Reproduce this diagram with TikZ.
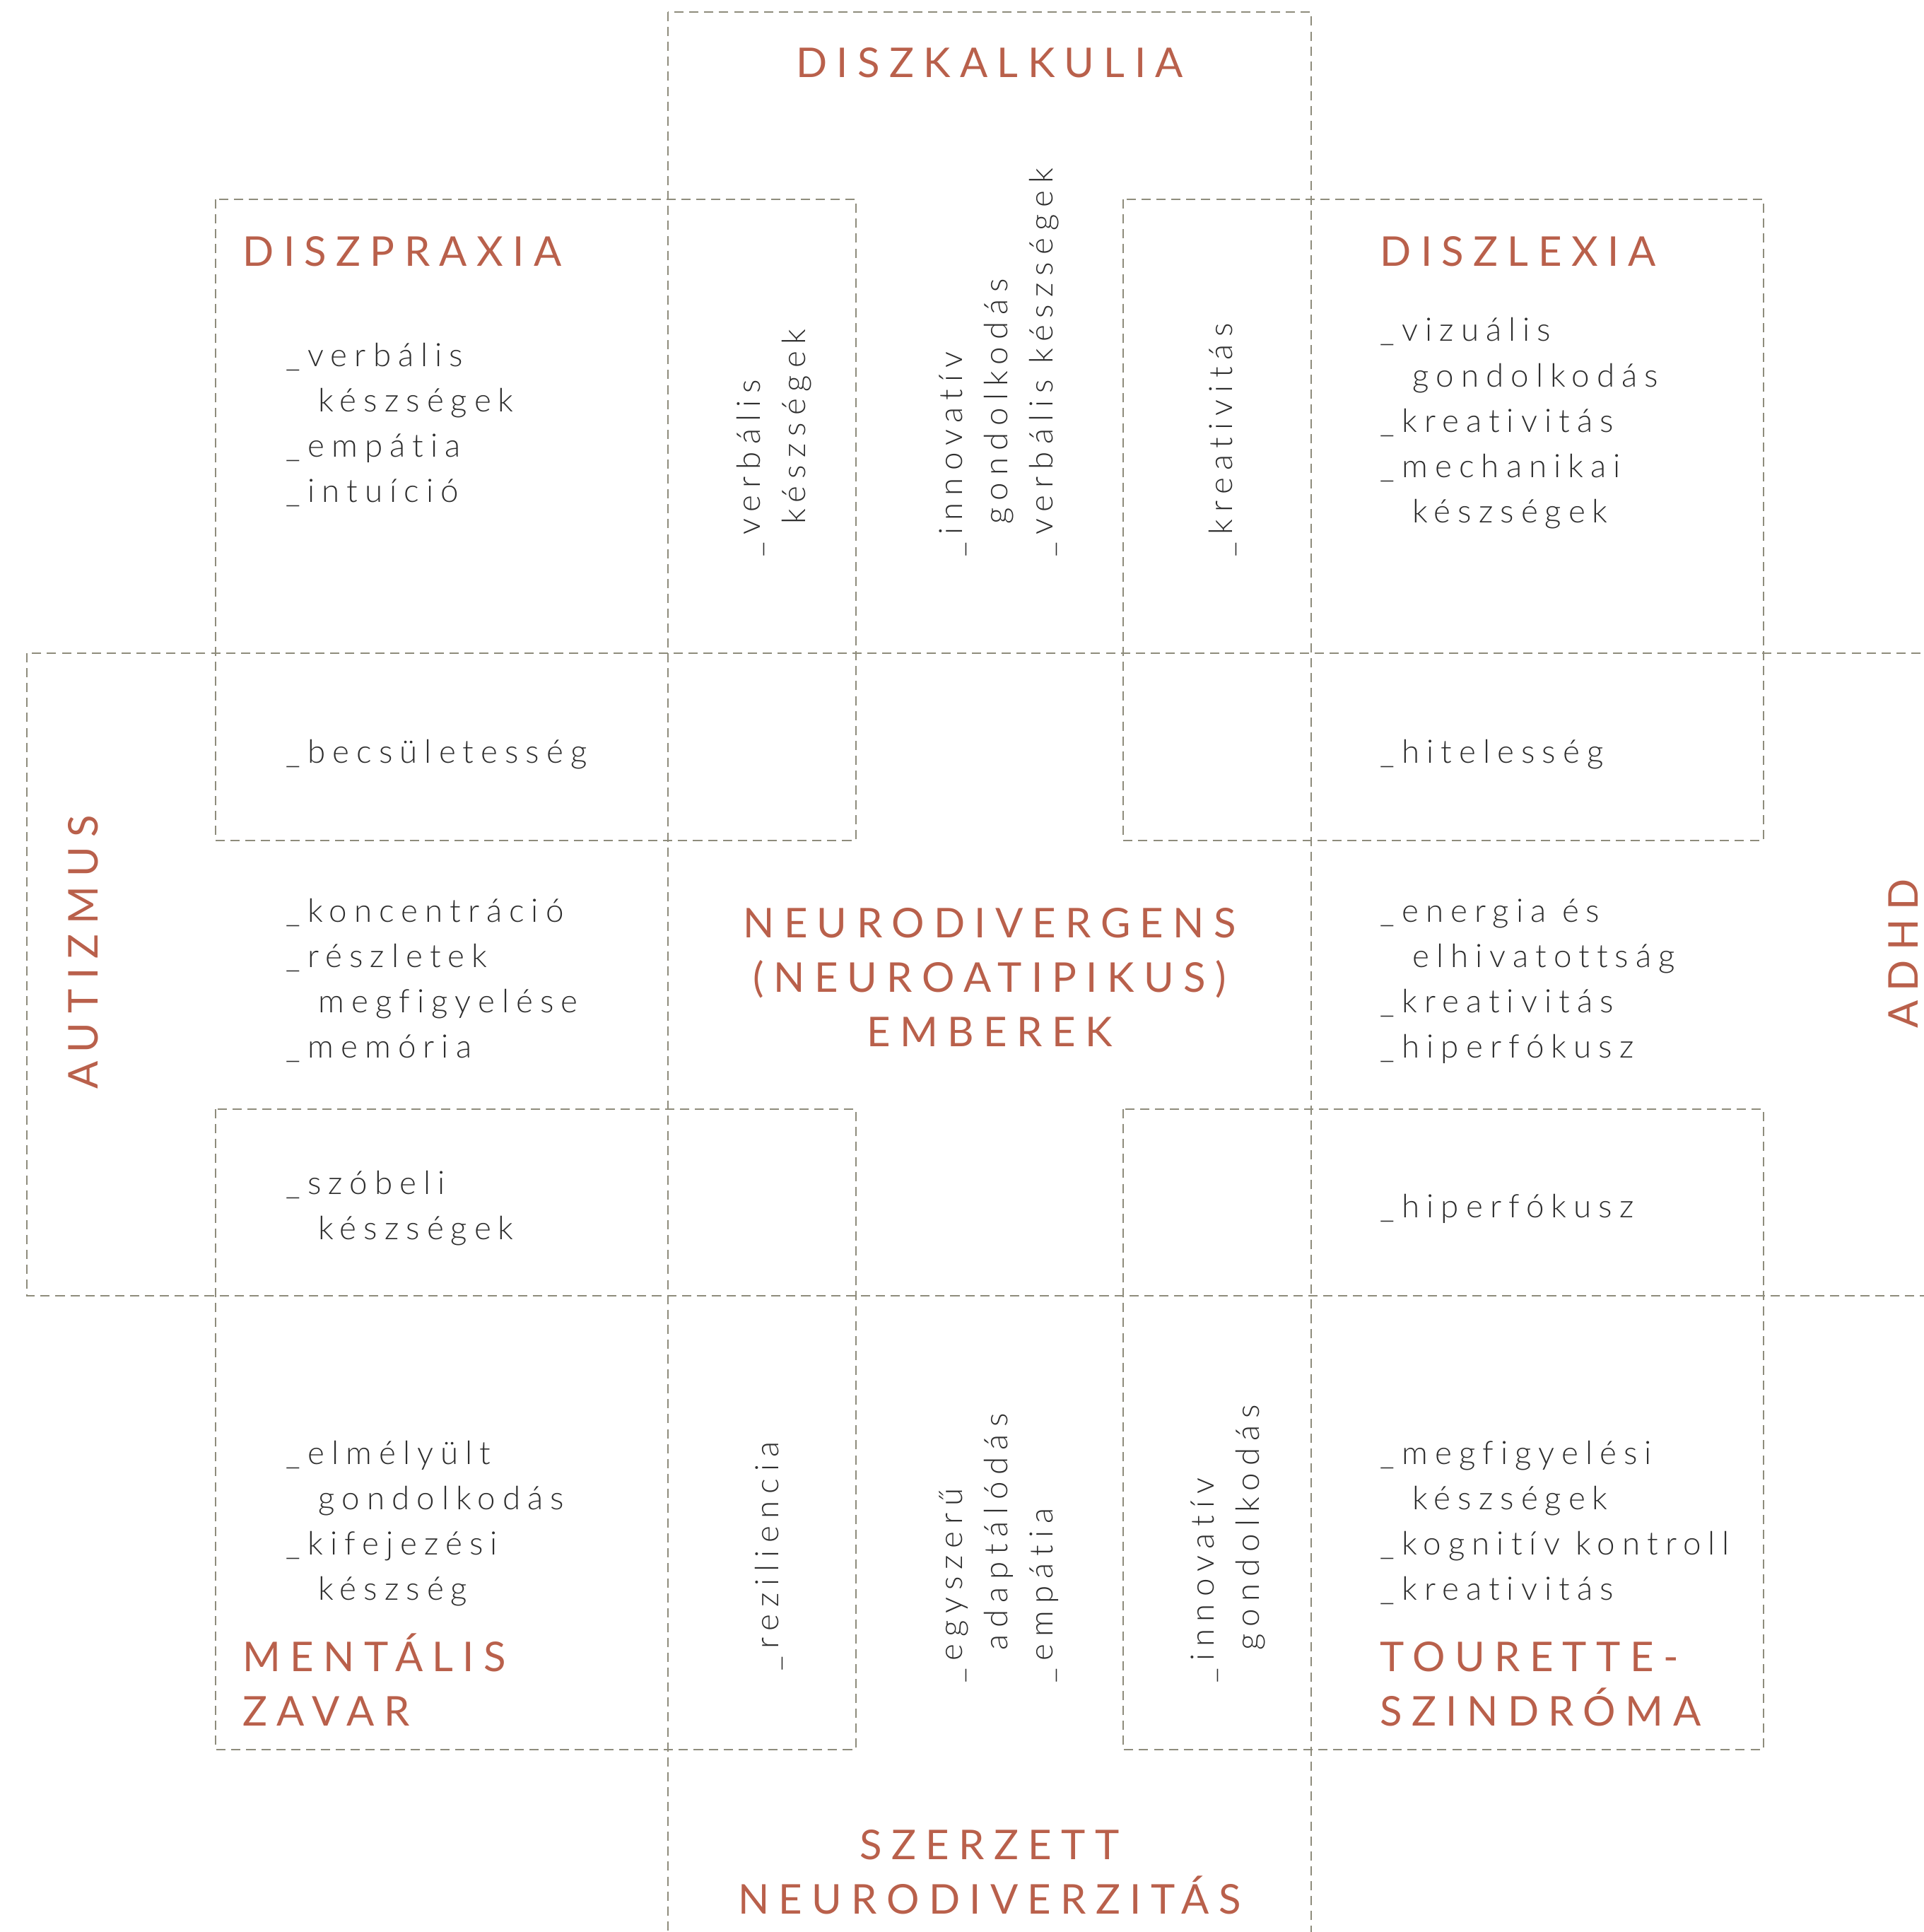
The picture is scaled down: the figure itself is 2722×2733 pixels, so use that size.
\documentclass[tikz,border=0pt]{standalone}
\usepackage{fontspec}
\setmainfont{Lato Light}[LetterSpace=22, Ligatures=NoCommon]
\newfontfamily\headfont{Lato}[LetterSpace=23, Ligatures=NoCommon]
\definecolor{accent}{HTML}{B9604B}
\definecolor{textgray}{HTML}{2E2E2E}
\definecolor{dashgray}{HTML}{8E8C7C}
\newcommand{\indnt}{\hspace*{13pt}}
\begin{document}
\begin{tikzpicture}[x=0.01cm, y=-0.01cm,
    boxline/.style={draw=dashgray, line width=0.6pt, dash pattern=on 3.7pt off 2.3pt},
    skill/.style={text=textgray, font=\fontsize{13}{18.2}\selectfont, align=left, inner sep=0pt, anchor=base west},
    vskill/.style={skill, rotate=90},
    condtitle/.style={text=accent, font=\headfont\fontsize{16.5}{21.8}\selectfont, inner sep=0pt}]
    \useasboundingbox (0,0) rectangle (2722,2733);

    % Frames (strips run off the page at the right and bottom)
    \begin{scope}
        \clip (0,0) rectangle (2722,2733);
        \draw[boxline] (945,17) rectangle (1855,2800);
        \draw[boxline] (38,924) rectangle (2800,1833);
        \draw[boxline] (305,282) rectangle (1211,1189);
        \draw[boxline] (1589,282) rectangle (2495,1189);
        \draw[boxline] (305,1569) rectangle (1211,2475);
        \draw[boxline] (1589,1569) rectangle (2495,2475);
    \end{scope}

    % Condition names (base = last line)
    \node[condtitle, anchor=base] (kalkulia) at (1400,110) {DISZKALKULIA};
    \node[condtitle, anchor=base west] (praxia) at (343,376) {DISZPRAXIA};
    \node[condtitle, anchor=base west] (lexia) at (1952,376) {DISZLEXIA};
    \node[condtitle, rotate=90] (autizmus) at (118,1347) {AUTIZMUS};
    \node[condtitle, rotate=90] (adhd) at (2693,1349) {ADHD};
    \node[condtitle, anchor=base west, align=left] (mentalis) at (343,2441) {MENTÁLIS\\ZAVAR};
    \node[condtitle, anchor=base west, align=left] (tourette) at (1952,2441) {TOURETTE-\\SZINDRÓMA};
    \node[condtitle, anchor=base, align=center] (szerzett) at (1400,2707) {SZERZETT\\NEURODIVERZITÁS};

    % Centre
    \node[condtitle, anchor=base, align=center] (center) at (1400,1480) {NEURODIVERGENS\\(NEUROATIPIKUS)\\EMBEREK};

    % Strengths, upper half
    \node[skill] (praxiaskills) at (404,710) {\_verbális\\\indnt készségek\\\_empátia\\\_intuíció};
    \node[skill] (lexiaskills) at (1952,739) {\_vizuális\\\indnt gondolkodás\\\_kreativitás\\\_mechanikai\\\indnt készségek};
    \node[vskill] (praxiakalk) at (1139,788) {\_verbális\\\indnt készségek};
    \node[vskill] (kalkskills) at (1489,788) {\_innovatív\\\indnt gondolkodás\\\_verbális készségek};
    \node[vskill] (lexiakalk) at (1743,788) {\_kreativitás};
    \node[skill] (praxiaaut) at (404,1079) {\_becsületesség};
    \node[skill] (lexiaadhd) at (1952,1079) {\_hitelesség};

    % Strengths, middle row
    \node[skill] (autskills) at (404,1496) {\_koncentráció\\\_részletek\\\indnt megfigyelése\\\_memória};
    \node[skill] (adhdskills) at (1952,1496) {\_energia és\\\indnt elhivatottság\\\_kreativitás\\\_hiperfókusz};

    % Strengths, lower half
    \node[skill] (mentaut) at (404,1753) {\_szóbeli\\\indnt készségek};
    \node[skill] (touradhd) at (1952,1722) {\_hiperfókusz};
    \node[skill] (mentskills) at (404,2263) {\_elmélyült\\\indnt gondolkodás\\\_kifejezési\\\indnt készség};
    \node[skill] (tourskills) at (1952,2263) {\_megfigyelési\\\indnt készségek\\\_kognitív kontroll\\\_kreativitás};
    \node[vskill] (mentszerz) at (1101,2364) {\_reziliencia};
    \node[vskill] (szerzskills) at (1489,2381) {\_egyszerű\\\indnt adaptálódás\\\_empátia};
    \node[vskill] (tourszerz) at (1781,2381) {\_innovatív\\\indnt gondolkodás};
\end{tikzpicture}
\end{document}
